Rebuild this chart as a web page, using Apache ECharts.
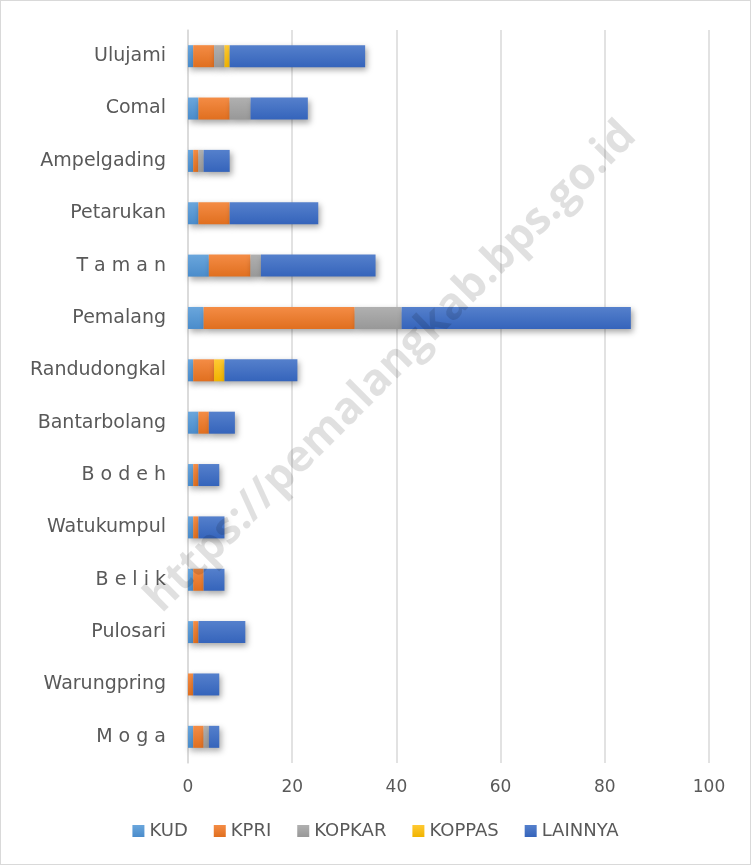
<!DOCTYPE html>
<html>
<head>
<meta charset="utf-8">
<script src="https://cdn.jsdelivr.net/npm/echarts@6/dist/echarts.min.js"></script>
<style>
  html, body { margin: 0; padding: 0; background: #fff; }
  #chart { width: 751px; height: 865px; box-sizing: border-box; border: 1px solid #d9d9d9; }
</style>
</head>
<body>
<div id="chart"></div>
<script>
// kecamatan, bottom to top
var kecamatan = ['M o g a', 'Warungpring', 'Pulosari', 'B e l i k', 'Watukumpul', 'B o d e h',
  'Bantarbolang', 'Randudongkal', 'Pemalang', 'T a m a n', 'Petarukan', 'Ampelgading', 'Comal', 'Ulujami'];
var kud     = [1, 0, 1, 1, 1, 1, 2, 1, 3, 4, 2, 1, 2, 1];
var kpri    = [2, 1, 1, 2, 1, 1, 2, 4, 29, 8, 6, 1, 6, 4];
var kopkar  = [1, 0, 0, 0, 0, 0, 0, 0, 9, 2, 0, 1, 4, 2];
var koppas  = [0, 0, 0, 0, 0, 0, 0, 2, 0, 0, 0, 0, 0, 1];
var lainnya = [2, 5, 9, 4, 5, 4, 5, 14, 44, 22, 17, 5, 11, 26];
var xTicks = [0, 20, 40, 60, 80, 100];

var chart = echarts.init(document.getElementById('chart'));
var font = '"DejaVu Sans"';

function grad(c1, c2) {
  return new echarts.graphic.LinearGradient(0, 0, 0, 1, [
    { offset: 0, color: c1 }, { offset: 1, color: c2 }
  ]);
}

function bar(name, data, c1, c2) {
  return {
    name: name,
    type: 'bar',
    stack: 'total',
    data: data,
    barWidth: 22,
    itemStyle: {
      color: grad(c1, c2),
      shadowColor: 'rgba(0,0,0,0.35)',
      shadowBlur: 6,
      shadowOffsetX: 2,
      shadowOffsetY: 3
    }
  };
}

var option = {
  animation: false,
  textStyle: { fontFamily: font },
  grid: { left: 187, right: 41, top: 29, bottom: 101, containLabel: false },
  xAxis: {
    type: 'value',
    min: xTicks[0],
    max: xTicks[xTicks.length - 1],
    interval: 20,
    axisLine: { show: false },
    axisTick: { show: false },
    axisLabel: { color: '#595959', fontSize: 17, margin: 16, fontFamily: font },
    splitLine: { lineStyle: { color: '#d9d9d9', width: 1.5 } }
  },
  yAxis: {
    type: 'category',
    data: kecamatan,
    axisLine: { show: true, lineStyle: { color: '#d9d9d9', width: 1.5 } },
    axisTick: { show: false },
    axisLabel: { color: '#595959', fontSize: 19, margin: 22, fontFamily: font }
  },
  legend: {
    bottom: 19,
    left: 'center',
    itemWidth: 12,
    itemHeight: 12,
    itemGap: 26,
    icon: 'rect',
    textStyle: { color: '#595959', fontSize: 18, fontFamily: font },
    data: ['KUD', 'KPRI', 'KOPKAR', 'KOPPAS', 'LAINNYA']
  },
  series: [
    bar('KUD', kud, '#6aa6dc', '#4a8ccb'),
    bar('KPRI', kpri, '#f48c45', '#e06f1f'),
    bar('KOPKAR', kopkar, '#b0b0b0', '#989898'),
    bar('KOPPAS', koppas, '#ffc933', '#f0b400'),
    bar('LAINNYA', lainnya, '#5580cc', '#3564bb')
  ],
  graphic: [{
    type: 'text',
    rotation: Math.PI / 4,
    x: 390,
    y: 366,
    style: {
      text: 'https://pemalangkab.bps.go.id',
      fontSize: 44,
      fontWeight: 'bold',
      fill: 'rgba(0,0,0,0.12)',
      fontFamily: 'Open Sans, sans-serif',
      align: 'center',
      verticalAlign: 'middle'
    },
    z: 100
  }]
};

chart.setOption(option);
</script>
</body>
</html>
